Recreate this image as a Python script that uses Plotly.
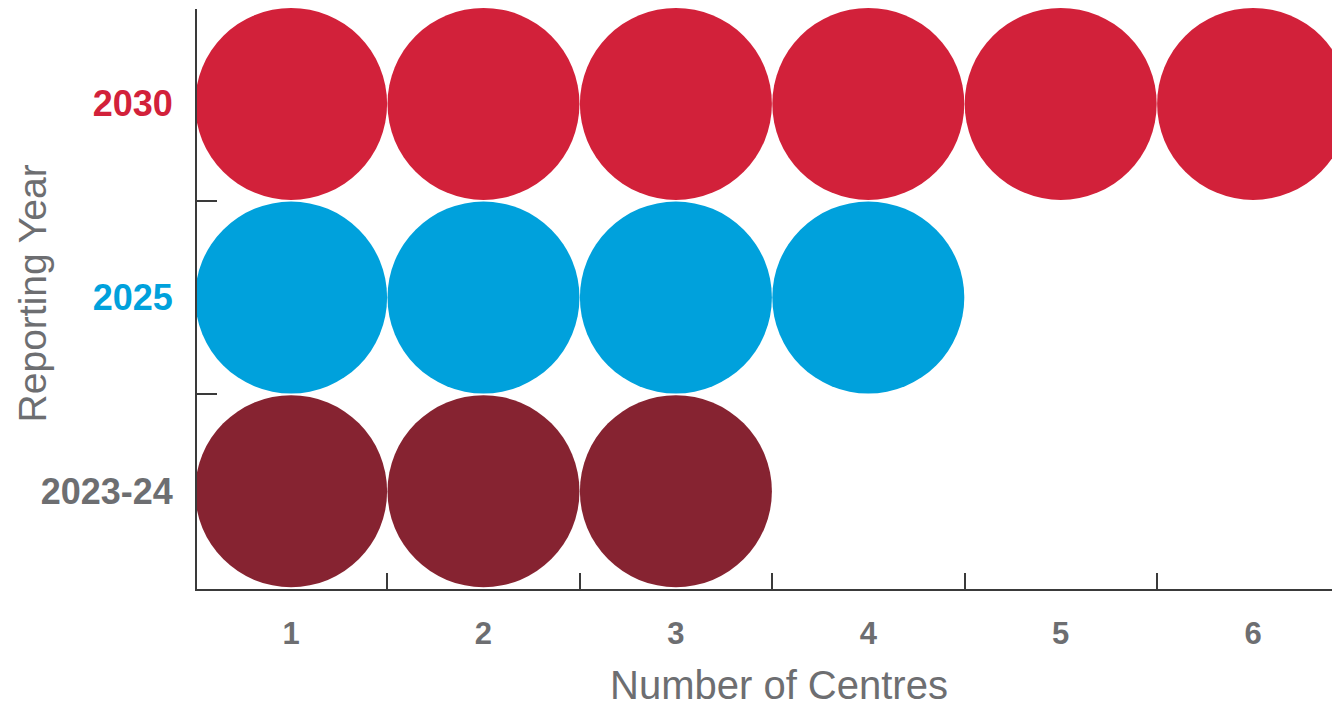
import plotly.graph_objects as go

# Data
years = ["2023-24", "2025", "2030"]
centres = [3, 4, 6]
year_colors = ["#862331", "#00A1DC", "#D2213A"]
label_colors = ["#6D6E71", "#00A1DC", "#D2213A"]
x_categories = ["1", "2", "3", "4", "5", "6"]
x_title = "Number of Centres"
y_title = "Reporting Year"

FONT = "Liberation Sans, Arial, Helvetica, sans-serif"
GRAY = "#6D6E71"

fig = go.Figure()
for yr, n, col in zip(years, centres, year_colors):
    xs = x_categories[:n]
    fig.add_trace(go.Scatter(
        x=xs, y=[yr] * n, mode="markers",
        marker=dict(size=192, color=col, line=dict(width=0)),
        cliponaxis=False, showlegend=False, hoverinfo="skip",
    ))

ticktext_y = [f'<span style="color:{c}">{y}</span>' for y, c in zip(years, label_colors)]

fig.update_layout(
    width=1332, height=707,
    margin=dict(l=197, r=0, t=9, b=118),
    paper_bgcolor="white", plot_bgcolor="white",
    font=dict(family=FONT, color=GRAY),
    xaxis=dict(
        type="category", categoryorder="array", categoryarray=x_categories,
        range=[-0.489, 5.41], automargin=False,
        tickson="boundaries", ticks="inside", ticklen=16, tickwidth=2, tickcolor="#3a3a3a",
        showline=True, linecolor="#3a3a3a", linewidth=2,
        showgrid=False, zeroline=False,
        tickfont=dict(size=31, color=GRAY, weight="bold"),
        ticklabelstandoff=16,
    ),
    yaxis=dict(
        type="category", categoryorder="array", categoryarray=years,
        range=[-0.505, 2.49], automargin=False,
        tickmode="array", tickvals=years, ticktext=ticktext_y,
        tickson="boundaries", ticks="inside", ticklen=20, tickwidth=2, tickcolor="#3a3a3a",
        showline=True, linecolor="#3a3a3a", linewidth=2,
        showgrid=False, zeroline=False,
        tickfont=dict(size=36, color=GRAY, weight="bold"),
        ticklabelstandoff=15,
    ),
    annotations=[
        dict(text=x_title, xref="paper", yref="paper", x=0.5128, y=-0.165,
             xanchor="center", yanchor="middle", showarrow=False,
             font=dict(size=40, color=GRAY)),
        dict(text=y_title, xref="paper", yref="paper", x=-0.1452, y=0.51,
             xanchor="center", yanchor="middle", showarrow=False, textangle=-90,
             font=dict(size=39, color=GRAY)),
    ],
)

fig.write_html("out.html")
